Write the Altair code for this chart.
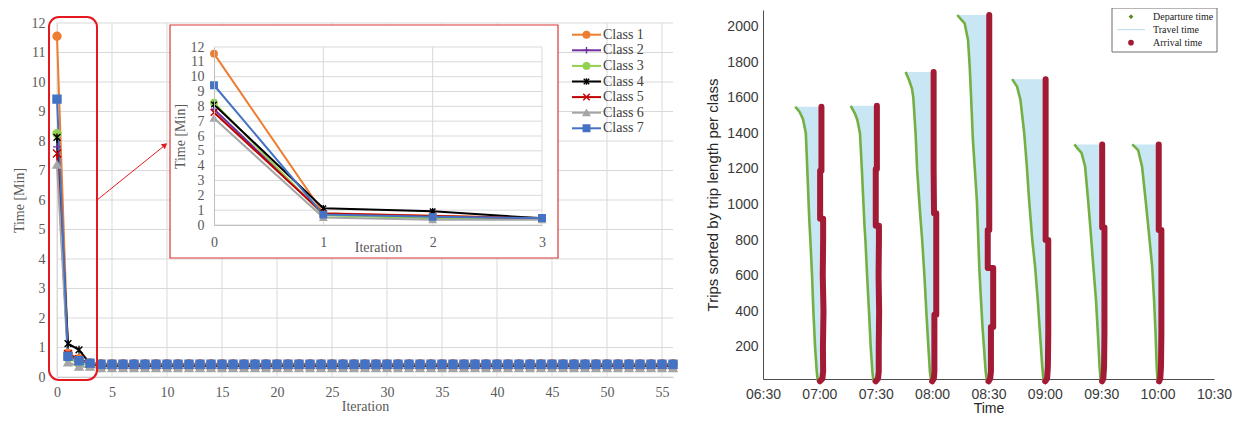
import altair as alt
import pandas as pd

# ---------------- Left panel: travel time per class vs iteration ----------------
iterations = list(range(57))
class_names = ["Class 1", "Class 2", "Class 3", "Class 4", "Class 5", "Class 6", "Class 7"]

class1_time = [11.55, 0.80, 0.62, 0.48,
               0.45, 0.45, 0.45, 0.45, 0.45, 0.45, 0.45, 0.45, 0.45, 0.45,
               0.45, 0.45, 0.45, 0.45, 0.45, 0.45, 0.45, 0.45, 0.45, 0.45,
               0.45, 0.45, 0.45, 0.45, 0.45, 0.45, 0.45, 0.45, 0.45, 0.45,
               0.45, 0.45, 0.45, 0.45, 0.45, 0.45, 0.45, 0.45, 0.45, 0.45,
               0.45, 0.45, 0.45, 0.45, 0.45, 0.45, 0.45, 0.45, 0.45, 0.45,
               0.45, 0.45, 0.45]
class2_time = [7.80, 0.75, 0.55, 0.45,
               0.40, 0.40, 0.40, 0.40, 0.40, 0.40, 0.40, 0.40, 0.40, 0.40,
               0.40, 0.40, 0.40, 0.40, 0.40, 0.40, 0.40, 0.40, 0.40, 0.40,
               0.40, 0.40, 0.40, 0.40, 0.40, 0.40, 0.40, 0.40, 0.40, 0.40,
               0.40, 0.40, 0.40, 0.40, 0.40, 0.40, 0.40, 0.40, 0.40, 0.40,
               0.40, 0.40, 0.40, 0.40, 0.40, 0.40, 0.40, 0.40, 0.40, 0.40,
               0.40, 0.40, 0.40]
class3_time = [8.25, 0.65, 0.45, 0.42,
               0.40, 0.40, 0.40, 0.40, 0.40, 0.40, 0.40, 0.40, 0.40, 0.40,
               0.40, 0.40, 0.40, 0.40, 0.40, 0.40, 0.40, 0.40, 0.40, 0.40,
               0.40, 0.40, 0.40, 0.40, 0.40, 0.40, 0.40, 0.40, 0.40, 0.40,
               0.40, 0.40, 0.40, 0.40, 0.40, 0.40, 0.40, 0.40, 0.40, 0.40,
               0.40, 0.40, 0.40, 0.40, 0.40, 0.40, 0.40, 0.40, 0.40, 0.40,
               0.40, 0.40, 0.40]
class4_time = [8.12, 1.13, 0.92, 0.45,
               0.38, 0.38, 0.38, 0.38, 0.38, 0.38, 0.38, 0.38, 0.38, 0.38,
               0.38, 0.38, 0.38, 0.38, 0.38, 0.38, 0.38, 0.38, 0.38, 0.38,
               0.38, 0.38, 0.38, 0.38, 0.38, 0.38, 0.38, 0.38, 0.38, 0.38,
               0.38, 0.38, 0.38, 0.38, 0.38, 0.38, 0.38, 0.38, 0.38, 0.38,
               0.38, 0.38, 0.38, 0.38, 0.38, 0.38, 0.38, 0.38, 0.38, 0.38,
               0.38, 0.38, 0.38]
class5_time = [7.58, 0.78, 0.60, 0.45,
               0.40, 0.40, 0.40, 0.40, 0.40, 0.40, 0.40, 0.40, 0.40, 0.40,
               0.40, 0.40, 0.40, 0.40, 0.40, 0.40, 0.40, 0.40, 0.40, 0.40,
               0.40, 0.40, 0.40, 0.40, 0.40, 0.40, 0.40, 0.40, 0.40, 0.40,
               0.40, 0.40, 0.40, 0.40, 0.40, 0.40, 0.40, 0.40, 0.40, 0.40,
               0.40, 0.40, 0.40, 0.40, 0.40, 0.40, 0.40, 0.40, 0.40, 0.40,
               0.40, 0.40, 0.40]
class6_time = [7.20, 0.50, 0.35, 0.35,
               0.30, 0.30, 0.30, 0.30, 0.30, 0.30, 0.30, 0.30, 0.30, 0.30,
               0.30, 0.30, 0.30, 0.30, 0.30, 0.30, 0.30, 0.30, 0.30, 0.30,
               0.30, 0.30, 0.30, 0.30, 0.30, 0.30, 0.30, 0.30, 0.30, 0.30,
               0.30, 0.30, 0.30, 0.30, 0.30, 0.30, 0.30, 0.30, 0.30, 0.30,
               0.30, 0.30, 0.30, 0.30, 0.30, 0.30, 0.30, 0.30, 0.30, 0.30,
               0.30, 0.30, 0.30]
class7_time = [9.42, 0.70, 0.55, 0.47,
               0.43, 0.43, 0.43, 0.43, 0.43, 0.43, 0.43, 0.43, 0.43, 0.43,
               0.43, 0.43, 0.43, 0.43, 0.43, 0.43, 0.43, 0.43, 0.43, 0.43,
               0.43, 0.43, 0.43, 0.43, 0.43, 0.43, 0.43, 0.43, 0.43, 0.43,
               0.43, 0.43, 0.43, 0.43, 0.43, 0.43, 0.43, 0.43, 0.43, 0.43,
               0.43, 0.43, 0.43, 0.43, 0.43, 0.43, 0.43, 0.43, 0.43, 0.43,
               0.43, 0.43, 0.43]
class_series = [class1_time, class2_time, class3_time, class4_time,
                class5_time, class6_time, class7_time]

main_x_ticks = [0, 5, 10, 15, 20, 25, 30, 35, 40, 45, 50, 55]
main_y_ticks = [0, 1, 2, 3, 4, 5, 6, 7, 8, 9, 10, 11, 12]
inset_x_ticks = [0, 1, 2, 3]

# ---------------- Right panel: departure / arrival per trip ----------------
g1_y = [1550, 1520, 1480, 1400, 1190, 1190, 920, 920, 800, 600, 400, 200, 60, 20, 5]
g1_dep = [407.2, 409.5, 411.3, 412.8, 413.6, 413.6, 414.6, 414.6, 415.2, 416.1, 416.8, 417.7, 418.6, 419.0, 419.3]
g1_arr = [421.1, 421.1, 421.1, 421.1, 421.1, 420.4, 420.4, 422.0, 422.0, 421.8, 422.2, 421.9, 422.0, 421.6, 420.3]

g2_y = [1555, 1510, 1475, 1400, 1200, 1200, 880, 880, 800, 600, 400, 200, 60, 20, 5]
g2_dep = [436.7, 439.0, 440.2, 441.6, 442.6, 442.6, 444.0, 444.0, 444.5, 445.4, 446.4, 447.3, 448.2, 448.6, 449.0]
g2_arr = [450.6, 450.6, 450.6, 450.6, 450.6, 450.0, 450.0, 451.7, 451.7, 451.5, 451.8, 451.6, 451.6, 451.2, 450.0]

g3_y = [1745, 1700, 1650, 1600, 1400, 1200, 950, 950, 800, 600, 380, 380, 200, 60, 20, 5]
g3_dep = [465.9, 467.7, 469.3, 470.0, 471.2, 472.0, 473.6, 473.6, 474.7, 475.9, 477.0, 477.0, 478.0, 478.8, 479.3, 479.6]
g3_arr = [480.8, 480.8, 480.8, 480.8, 480.8, 480.8, 481.0, 482.2, 482.2, 482.2, 482.2, 481.2, 481.2, 481.2, 480.9, 480.0]

g4_y = [2066, 2040, 2019, 1925, 1775, 1588, 1363, 1024, 856, 856, 643, 643, 462, 311, 311, 164, 60, 20, 5]
g4_dep = [493.4, 495.5, 497.3, 499.1, 500.0, 500.8, 501.7, 503.8, 504.4, 504.4, 505.1, 505.1, 506.0, 506.8, 506.8, 507.8, 508.5, 509.0, 509.3]
g4_arr = [510.4, 510.4, 510.4, 510.4, 510.4, 510.4, 510.4, 510.4, 510.4, 509.6, 509.6, 512.5, 512.5, 512.5, 511.3, 511.3, 511.3, 510.9, 510.0]

g5_y = [1705, 1663, 1588, 1402, 1214, 1025, 800, 800, 650, 463, 275, 88, 20, 5]
g5_dep = [522.6, 525.2, 527.0, 529.0, 530.4, 531.6, 533.3, 533.3, 534.8, 536.2, 537.4, 538.6, 539.2, 539.5]
g5_arr = [540.4, 540.4, 540.4, 540.4, 540.4, 540.4, 540.4, 541.8, 541.8, 541.8, 541.8, 541.6, 541.2, 540.2]

g6_y = [1338, 1320, 1290, 1214, 1025, 870, 870, 650, 463, 275, 88, 20, 5]
g6_dep = [555.7, 557.0, 559.5, 561.4, 563.0, 564.2, 564.2, 565.8, 567.2, 568.2, 569.1, 569.6, 569.9]
g6_arr = [570.5, 570.5, 570.5, 570.5, 570.5, 570.5, 571.7, 571.7, 571.7, 571.7, 571.5, 571.1, 570.4]

g7_y = [1338, 1306, 1214, 1025, 856, 856, 650, 463, 275, 88, 20, 5]
g7_dep = [586.5, 589.6, 591.7, 593.6, 595.2, 595.2, 597.1, 598.1, 598.9, 599.5, 599.9, 600.1]
g7_arr = [600.6, 600.6, 600.6, 600.6, 600.6, 602.0, 602.0, 602.0, 602.0, 601.8, 601.4, 600.8]

time_ticks = [390, 420, 450, 480, 510, 540, 570, 600, 630]
trip_ticks = [200, 400, 600, 800, 1000, 1200, 1400, 1600, 1800, 2000]
right_legend_labels = ["Departure time", "Travel time", "Arrival time"]

# ---------------- styling ----------------
W, H = 1226, 406
SERIF = "Liberation Serif"
SANS = "Liberation Sans"
XL_TEXT = "#595959"
XL_GRID = "#d9d9d9"
class_colors = ["#ED7D31", "#7030A0", "#92D050", "#000000", "#C00000", "#A5A5A5", "#4472C4"]
class_fills = ["#ED7D31", "transparent", "#92D050", "transparent", "transparent", "#A5A5A5", "#4472C4"]
class_shapes = [
    "circle",
    "M-1,0L1,0M0,-1L0,1",
    "circle",
    "M0,-1L0,1M-0.85,-0.85L0.85,0.85M-0.85,0.85L0.85,-0.85",
    "M-1,-1L1,1M-1,1L1,-1",
    "triangle-up",
    "square",
]
DEP_GREEN = "#74b041"
ARR_RED = "#a21a34"
TRAVEL_BLUE = "#c8e6f3"
BOX_RED = "#e3191f"

# ---------------- data tables ----------------
rows = []
for name, vals in zip(class_names, class_series):
    for it, v in zip(iterations, vals):
        rows.append({"cls": name, "it": it, "t": v})
left_df = pd.DataFrame(rows)
inset_df = left_df[left_df["it"] <= 3].reset_index(drop=True)

trip_rows = []
poly_rows = []
groups = [(g1_y, g1_dep, g1_arr), (g2_y, g2_dep, g2_arr), (g3_y, g3_dep, g3_arr),
          (g4_y, g4_dep, g4_arr), (g5_y, g5_dep, g5_arr), (g6_y, g6_dep, g6_arr),
          (g7_y, g7_dep, g7_arr)]
for gi, (gy, gd, ga) in enumerate(groups):
    for k, (yy, dd, aa) in enumerate(zip(gy, gd, ga)):
        trip_rows.append({"grp": gi, "idx": k, "y": yy, "dep": dd, "arr": aa})
    # closed outline of the travel-time band: departures downwards, arrivals back up
    seq = 0
    for yy, dd in zip(gy, gd):
        poly_rows.append({"grp": gi, "seq": seq, "y": yy, "t": dd})
        seq += 1
    for yy, aa in zip(reversed(gy), reversed(ga)):
        poly_rows.append({"grp": gi, "seq": seq, "y": yy, "t": aa})
        seq += 1
trip_df = pd.DataFrame(trip_rows)
poly_df = pd.DataFrame(poly_rows)

one = pd.DataFrame({"k": [0]})

stroke_scale = alt.Scale(domain=class_names, range=class_colors)
fill_scale = alt.Scale(domain=class_names, range=class_fills)
shape_scale = alt.Scale(domain=class_names, range=class_shapes)


def xl_axis(values, orient, offset, title, label_pad, title_pad, domain_color, zindex=0):
    return alt.Axis(values=values, orient=orient, offset=offset, grid=False, ticks=False,
                    domain=True, domainColor=domain_color, domainWidth=1,
                    labelFont=SERIF, labelFontSize=14, labelColor=XL_TEXT,
                    labelPadding=label_pad, labelFlush=False, labelOverlap=False,
                    title=title, titleFont=SERIF, titleFontSize=14, titleFontWeight="normal",
                    titleColor=XL_TEXT, titlePadding=title_pad, zindex=zindex)


def excel_layers(df, xs, ys, xmax, vgrid_vals, ax_x, ax_y, psize):
    hgrid = alt.Chart(pd.DataFrame({"v": main_y_ticks})).mark_rule(color=XL_GRID, strokeWidth=1).encode(
        y=alt.Y("v:Q", scale=ys, axis=None),
        x=alt.XDatum(0, type="quantitative", scale=xs, axis=None),
        x2=alt.X2Datum(xmax),
    )
    vgrid = alt.Chart(pd.DataFrame({"v": vgrid_vals})).mark_rule(color=XL_GRID, strokeWidth=1).encode(
        x=alt.X("v:Q", scale=xs, axis=None),
        y=alt.YDatum(0, type="quantitative", scale=ys, axis=None),
        y2=alt.Y2Datum(12),
    )
    lines = alt.Chart(df).mark_line(strokeWidth=2).encode(
        x=alt.X("it:Q", scale=xs, axis=ax_x),
        y=alt.Y("t:Q", scale=ys, axis=ax_y),
        stroke=alt.Stroke("cls:N", scale=stroke_scale, legend=None),
        detail="cls:N",
    )
    points = alt.Chart(df).mark_point(size=psize, strokeWidth=1.4, opacity=1).encode(
        x=alt.X("it:Q", scale=xs, axis=None),
        y=alt.Y("t:Q", scale=ys, axis=None),
        stroke=alt.Stroke("cls:N", scale=stroke_scale, legend=None),
        fill=alt.Fill("cls:N", scale=fill_scale, legend=None),
        shape=alt.Shape("cls:N", scale=shape_scale, legend=None),
    )
    return [hgrid, vgrid, lines, points]


# main excel chart
xs_main = alt.Scale(domain=[0, 56], range=[49, 665], nice=False, zero=False)
ys_main = alt.Scale(domain=[0, 12], range=[369, 15], nice=False, zero=False)
main_layers = excel_layers(
    left_df, xs_main, ys_main, 56, main_x_ticks,
    xl_axis(main_x_ticks, "bottom", 369 - H, "Iteration", 8, 0, "#bfbfbf"),
    xl_axis(main_y_ticks, "left", -49, "Time [Min]", 12, 5, XL_GRID),
    64,
)

# decorations: zoom box, arrow, inset frame
zoom_box = alt.Chart(one).mark_rect(fillOpacity=0, stroke=BOX_RED, strokeWidth=2, cornerRadius=10).encode(
    x=alt.value(41), x2=alt.value(89), y=alt.value(9), y2=alt.value(372))
arrow_line = alt.Chart(one).mark_rule(color=BOX_RED, strokeWidth=1).encode(
    x=alt.value(89), y=alt.value(192), x2=alt.value(156), y2=alt.value(138))
arrow_head = alt.Chart(one).mark_point(shape="triangle-up", filled=True, color=BOX_RED, size=40,
                                       angle=51, opacity=1).encode(x=alt.value(157), y=alt.value(137))
inset_frame = alt.Chart(one).mark_rect(fill="white", stroke="#d93636", strokeWidth=1.2).encode(
    x=alt.value(162), x2=alt.value(550), y=alt.value(17), y2=alt.value(250))
deco_layers = [zoom_box, arrow_line, arrow_head, inset_frame]

# inset chart (iterations 0-3)
xs_in = alt.Scale(domain=[0, 3], range=[206, 534], nice=False, zero=False)
ys_in = alt.Scale(domain=[0, 12], range=[217, 39], nice=False, zero=False)
inset_layers = excel_layers(
    inset_df, xs_in, ys_in, 3, [1, 2, 3],
    xl_axis(inset_x_ticks, "bottom", 217 - H, "Iteration", 10, -9, "#bfbfbf", zindex=1),
    xl_axis(main_y_ticks, "left", -206, "Time [Min]", 10, 3, "#bfbfbf", zindex=1),
    42,
)

# left legend (manual, Excel style)
leg_df = pd.DataFrame({"cls": class_names})
yl = alt.Scale(type="point", domain=class_names, range=[26.7, 120.3], padding=0)
leg_line = alt.Chart(leg_df).mark_rule(strokeWidth=2).encode(
    y=alt.Y("cls:N", scale=yl, axis=None), x=alt.value(564), x2=alt.value(593),
    stroke=alt.Stroke("cls:N", scale=stroke_scale, legend=None))
leg_pt = alt.Chart(leg_df).mark_point(size=42, strokeWidth=1.4, opacity=1).encode(
    y=alt.Y("cls:N", scale=yl, axis=None), x=alt.value(578.5),
    stroke=alt.Stroke("cls:N", scale=stroke_scale, legend=None),
    fill=alt.Fill("cls:N", scale=fill_scale, legend=None),
    shape=alt.Shape("cls:N", scale=shape_scale, legend=None))
leg_txt = alt.Chart(leg_df).mark_text(align="left", baseline="middle", font=SERIF, fontSize=14,
                                      color="#404040").encode(
    y=alt.Y("cls:N", scale=yl, axis=None), x=alt.value(595), text="cls:N")
legend_left_layers = [leg_line, leg_pt, leg_txt]

# right chart
xs_r = alt.Scale(domain=[390, 630], range=[755, 1206], nice=False, zero=False)
ys_r = alt.Scale(domain=[18, 2094], range=[371, 2], nice=False, zero=False)
time_label = ("(floor(datum.value/60) < 10 ? '0' : '') + floor(datum.value/60) + ':' + "
              "(datum.value % 60 < 10 ? '0' : '') + (datum.value % 60)")
ax_r_x = alt.Axis(values=time_ticks, labelExpr=time_label, orient="bottom", offset=371 - H, grid=False,
                  ticks=False, domainColor="#4d4d4d", domainWidth=1, labelFont=SANS, labelFontSize=14,
                  labelColor="#3a3a3a", labelPadding=8, labelFlush=False, labelOverlap=False,
                  title="Time", titleFont=SANS, titleFontSize=14, titleFontWeight="normal",
                  titleColor="#262626", titlePadding=0)
ax_r_y = alt.Axis(values=trip_ticks, format="d", orient="left", offset=-755, grid=False, ticks=False,
                  domainColor="#4d4d4d", domainWidth=1, labelFont=SANS, labelFontSize=14,
                  labelColor="#3a3a3a", labelPadding=5, labelFlush=False, labelOverlap=False,
                  title="Trips sorted by trip length per class", titleFont=SANS, titleFontSize=15,
                  titleFontWeight="normal", titleColor="#262626", titlePadding=6)

travel_fill = alt.Chart(poly_df).mark_line(fill=TRAVEL_BLUE, stroke=TRAVEL_BLUE, strokeWidth=0.5).encode(
    y=alt.Y("y:Q", scale=ys_r, axis=None),
    x=alt.X("t:Q", scale=xs_r, axis=None),
    detail="grp:N",
    order=alt.Order("seq:Q"),
)
dep_line = alt.Chart(trip_df).mark_line(color=DEP_GREEN, strokeWidth=2.6, strokeJoin="round").encode(
    y=alt.Y("y:Q", scale=ys_r, axis=ax_r_y),
    x=alt.X("dep:Q", scale=xs_r, axis=ax_r_x),
    detail="grp:N",
    order=alt.Order("idx:Q"),
)
arr_line = alt.Chart(trip_df).mark_line(color=ARR_RED, strokeWidth=6, strokeCap="round",
                                        strokeJoin="round").encode(
    y=alt.Y("y:Q", scale=ys_r, axis=None),
    x=alt.X("arr:Q", scale=xs_r, axis=None),
    detail="grp:N",
    order=alt.Order("idx:Q"),
)
right_layers = [travel_fill, dep_line, arr_line]

# right legend (manual, MATLAB style)
rl_df = pd.DataFrame({"lab": right_legend_labels})
yr = alt.Scale(type="point", domain=right_legend_labels, range=[8.7, 34.7], padding=0)
rl_box = alt.Chart(one).mark_rect(fill="white", stroke="#6f6f6f", strokeWidth=1).encode(
    x=alt.value(1104), x2=alt.value(1209), y=alt.value(0), y2=alt.value(44))
rl_dep = alt.Chart(rl_df).transform_filter("datum.lab == 'Departure time'").mark_point(
    shape="diamond", filled=True, color="#4f8a1f", size=22, opacity=1).encode(
    y=alt.Y("lab:N", scale=yr, axis=None), x=alt.value(1123))
rl_trv = alt.Chart(rl_df).transform_filter("datum.lab == 'Travel time'").mark_rule(
    color="#b5dcee", strokeWidth=1).encode(
    y=alt.Y("lab:N", scale=yr, axis=None), x=alt.value(1109), x2=alt.value(1137))
rl_arr = alt.Chart(rl_df).transform_filter("datum.lab == 'Arrival time'").mark_point(
    shape="circle", filled=True, color=ARR_RED, size=32, opacity=1).encode(
    y=alt.Y("lab:N", scale=yr, axis=None), x=alt.value(1123))
rl_txt = alt.Chart(rl_df).mark_text(align="left", baseline="middle", font=SERIF, fontSize=10,
                                    color="#222222").encode(
    y=alt.Y("lab:N", scale=yr, axis=None), x=alt.value(1145), text="lab:N")
legend_right_layers = [rl_box, rl_dep, rl_trv, rl_arr, rl_txt]

all_layers = (main_layers + deco_layers + inset_layers + legend_left_layers
              + right_layers + legend_right_layers)

chart = alt.layer(*all_layers).resolve_scale(
    x="independent", y="independent"
).properties(
    width=W, height=H, padding=0, autosize="none", background="white"
).configure_view(strokeWidth=0)

chart.save("out.html", embed_options={"renderer": "svg", "actions": False})
